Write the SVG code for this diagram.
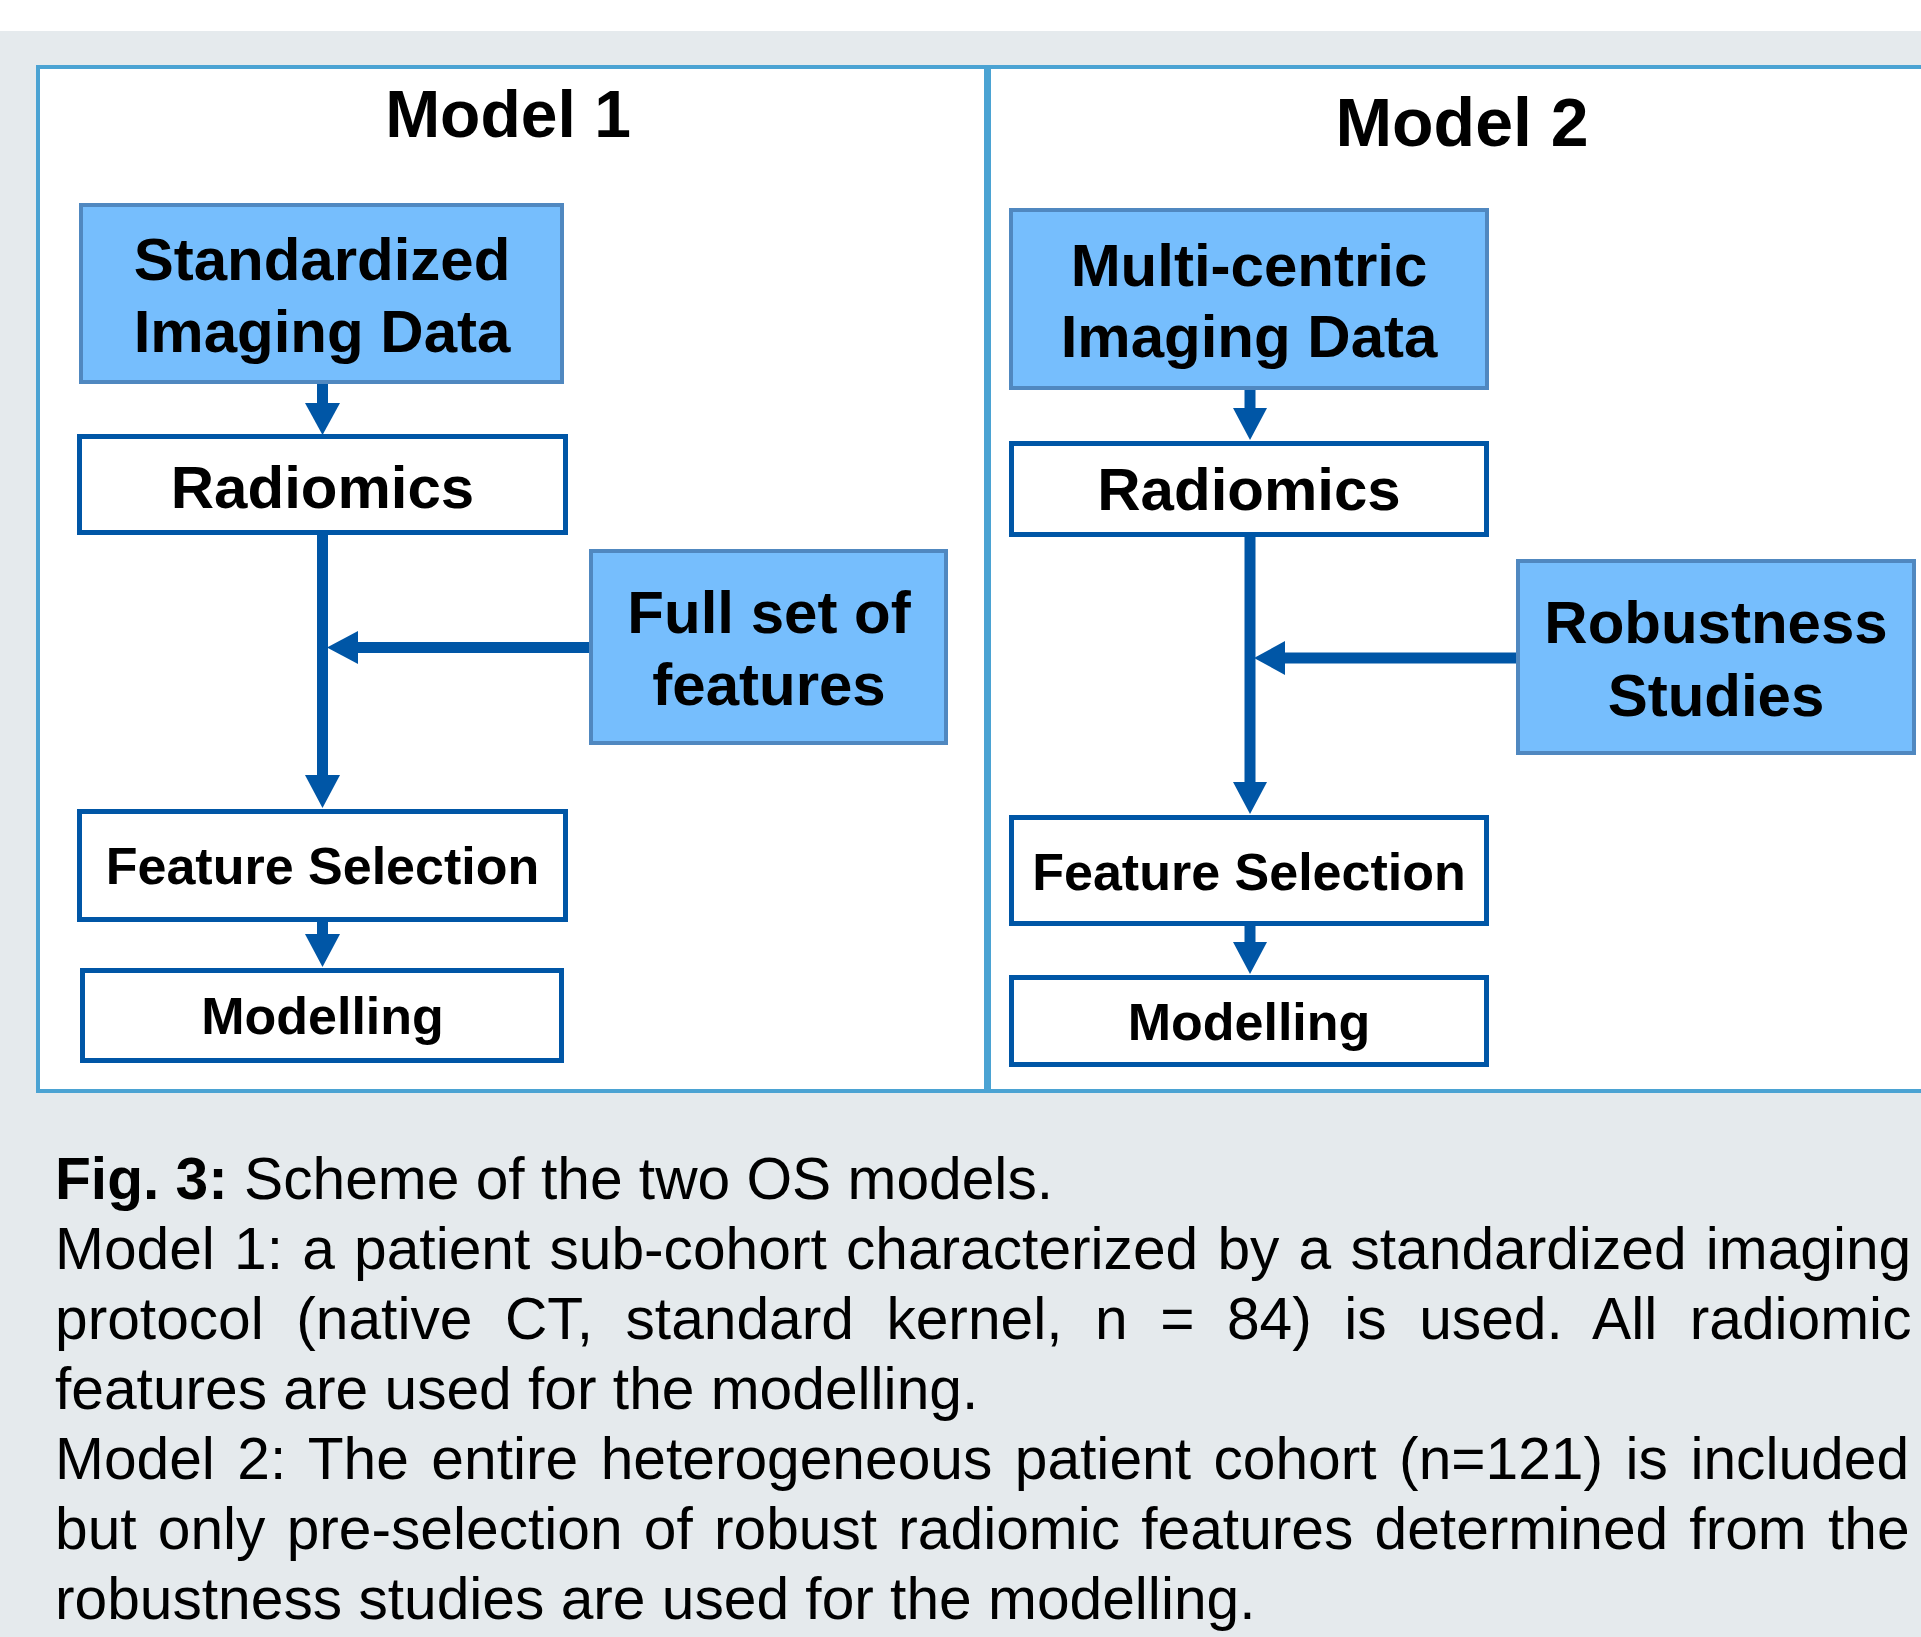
<svg xmlns="http://www.w3.org/2000/svg" width="1921" height="1637" viewBox="0 0 1921 1637">
<style>
.panel{fill:#ffffff;stroke:#4BA3D3;stroke-width:4}
.src{fill:#76BEFD;stroke:#5088C0;stroke-width:4}
.step{fill:#ffffff;stroke:#0056A6;stroke-width:5}
.lbl{font-family:"Liberation Sans",Arial,sans-serif;font-weight:bold;fill:#000;text-anchor:middle}
.t60{font-size:60px}
.t51{font-size:52px}
.line{stroke:#0056A6;stroke-width:11;fill:none}
.head{fill:#0056A6}
.cap{font-family:"Liberation Sans",Arial,sans-serif;font-size:58.7px;fill:#000}
</style>
<rect x="0" y="0" width="1921" height="1637" fill="#ffffff"/>
<rect x="0" y="31" width="1921" height="1606" fill="#E5EAED"/>
<g id="panel1">
<rect class="panel" x="38" y="67" width="948" height="1024"/>
<text class="lbl" x="508" y="137" font-size="66">Model 1</text>
</g>
<g id="panel2">
<rect class="panel" x="989" y="67" width="950" height="1024"/>
<text class="lbl" x="1462" y="146" font-size="68">Model 2</text>
</g>
<g id="connectors">
<line class="line" x1="322.5" y1="383" x2="322.5" y2="405"/>
<polygon class="head" points="305,403 340,403 322.5,435"/>
<line class="line" x1="322.5" y1="535" x2="322.5" y2="777"/>
<polygon class="head" points="305,775 340,775 322.5,808"/>
<line class="line" x1="591" y1="647.5" x2="356" y2="647.5"/>
<polygon class="head" points="358,631 358,664 327,647.5"/>
<line class="line" x1="322.5" y1="921" x2="322.5" y2="936"/>
<polygon class="head" points="305,934 340,934 322.5,967"/>
<line class="line" x1="1250" y1="389" x2="1250" y2="410"/>
<polygon class="head" points="1233,408 1267,408 1250,440"/>
<line class="line" x1="1250" y1="537" x2="1250" y2="784"/>
<polygon class="head" points="1233,782 1267,782 1250,814"/>
<line class="line" x1="1518" y1="658" x2="1283" y2="658"/>
<polygon class="head" points="1285,641 1285,675 1254,658"/>
<line class="line" x1="1250" y1="925" x2="1250" y2="944"/>
<polygon class="head" points="1233,942 1267,942 1250,974"/>
</g>
<g id="m1-data">
<rect class="src" x="81" y="205" width="481" height="177"/>
<text class="lbl t60" x="322" y="280">Standardized</text>
<text class="lbl t60" x="322" y="352">Imaging Data</text>
</g>
<g id="m1-radiomics">
<rect class="step" x="79.5" y="436.5" width="486" height="96"/>
<text class="lbl t60" x="322.5" y="508">Radiomics</text>
</g>
<g id="m1-fullset">
<rect class="src" x="591" y="551" width="355" height="192"/>
<text class="lbl t60" x="769" y="633">Full set of</text>
<text class="lbl t60" x="769" y="705">features</text>
</g>
<g id="m1-featsel">
<rect class="step" x="79.5" y="811.5" width="486" height="108"/>
<text class="lbl t51" x="322.5" y="884">Feature Selection</text>
</g>
<g id="m1-modelling">
<rect class="step" x="82.5" y="970.5" width="479" height="90"/>
<text class="lbl t51" x="322.5" y="1034">Modelling</text>
</g>
<g id="m2-data">
<rect class="src" x="1011" y="210" width="476" height="178"/>
<text class="lbl t60" x="1249" y="286">Multi-centric</text>
<text class="lbl t60" x="1249" y="357">Imaging Data</text>
</g>
<g id="m2-radiomics">
<rect class="step" x="1011.5" y="443.5" width="475" height="91"/>
<text class="lbl t60" x="1249" y="510">Radiomics</text>
</g>
<g id="m2-robust">
<rect class="src" x="1518" y="561" width="396" height="192"/>
<text class="lbl t60" x="1716" y="643">Robustness</text>
<text class="lbl t60" x="1716" y="716">Studies</text>
</g>
<g id="m2-featsel">
<rect class="step" x="1011.5" y="817.5" width="475" height="106"/>
<text class="lbl t51" x="1249" y="890">Feature Selection</text>
</g>
<g id="m2-modelling">
<rect class="step" x="1011.5" y="977.5" width="475" height="87"/>
<text class="lbl t51" x="1249" y="1040">Modelling</text>
</g>
<g id="caption">
<text class="cap" x="55" y="1199"><tspan font-weight="bold">Fig. 3:</tspan> Scheme of the two OS models.</text>
<text class="cap" x="55" y="1269" word-spacing="2.9">Model 1: a patient sub-cohort characterized by a standardized imaging</text>
<text class="cap" x="55" y="1339" word-spacing="16.2">protocol (native CT, standard kernel, n = 84) is used. All radiomic</text>
<text class="cap" x="55" y="1409">features are used for the modelling.</text>
<text class="cap" x="55" y="1479" word-spacing="6.2">Model 2: The entire heterogeneous patient cohort (n=121) is included</text>
<text class="cap" x="55" y="1549" word-spacing="4.9">but only pre-selection of robust radiomic features determined from the</text>
<text class="cap" x="55" y="1619">robustness studies are used for the modelling.</text>
</g>
</svg>
